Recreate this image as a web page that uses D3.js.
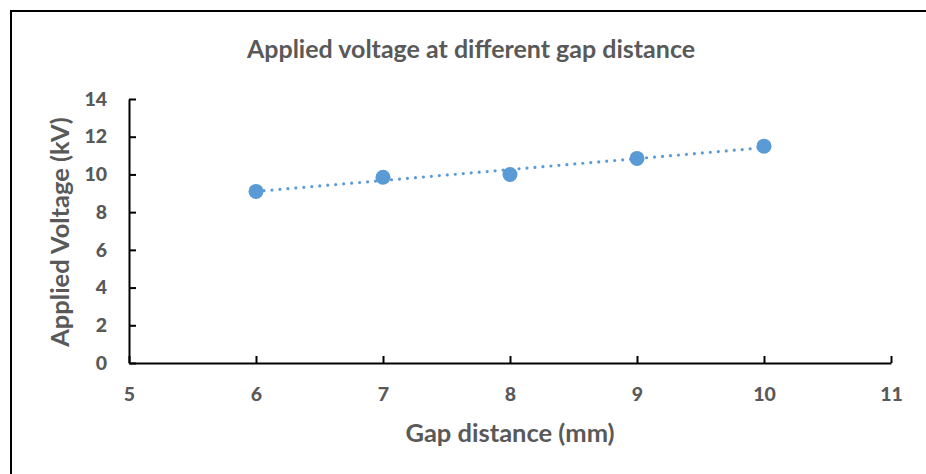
<!DOCTYPE html>
<html>
<head>
<meta charset="utf-8">
<script src="https://cdn.jsdelivr.net/npm/d3@7"></script>
<style>
  body { margin: 0; background: #fff; }
  text { font-family: Lato, "Open Sans", sans-serif; font-weight: bold; fill: #595959; }
</style>
</head>
<body>
<script>
// data
var gapDistance = [6, 7, 8, 9, 10];
var appliedVoltage = [9.1, 9.85, 10.0, 10.85, 11.5];
var xTicks = [5, 6, 7, 8, 9, 10, 11];
var yTicks = [0, 2, 4, 6, 8, 10, 12, 14];

var width = 926, height = 474;
var margin = {top: 99, right: 35, bottom: 111, left: 129};

var svg = d3.select("body").append("svg")
    .attr("width", width)
    .attr("height", height);

// outer chart frame (runs off the right and bottom edges)
svg.append("rect")
    .attr("x", 11).attr("y", 11)
    .attr("width", 940).attr("height", 480)
    .attr("fill", "none")
    .attr("stroke", "#000")
    .attr("stroke-width", 2);

var x = d3.scaleLinear().domain([5, 11]).range([margin.left, width - margin.right]);
var y = d3.scaleLinear().domain([0, 14]).range([height - margin.bottom, margin.top]);

// title
svg.append("text")
    .attr("x", 471).attr("y", 58)
    .attr("text-anchor", "middle")
    .style("font-size", "25px")
    .text("Applied voltage at different gap distance");

// axes, ticks pointing inwards
var xAxis = svg.append("g")
    .attr("transform", "translate(0," + y(0) + ")")
    .call(d3.axisBottom(x).tickValues(xTicks).tickFormat(d3.format("d"))
      .tickSize(-7).tickPadding(24).tickSizeOuter(0));
var yAxis = svg.append("g")
    .attr("transform", "translate(" + x(5) + ",0)")
    .call(d3.axisLeft(y).tickValues(yTicks).tickFormat(d3.format("d"))
      .tickSize(-7).tickPadding(22).tickSizeOuter(0));

[xAxis, yAxis].forEach(function(g) {
  g.select(".domain").attr("stroke", "#000").attr("stroke-width", 2);
  g.selectAll(".tick line").attr("stroke", "#000").attr("stroke-width", 2);
  g.selectAll(".tick text").style("font-size", "19.5px").attr("fill", "#595959")
   .style("font-family", "Lato, 'Open Sans', sans-serif").style("font-weight", "900");
});

// axis titles
svg.append("text")
    .attr("x", 510).attr("y", 442)
    .attr("text-anchor", "middle")
    .style("font-size", "25.5px")
    .text("Gap distance (mm)");
svg.append("text")
    .attr("transform", "translate(69,232) rotate(-90)")
    .attr("text-anchor", "middle")
    .style("font-size", "25.5px")
    .text("Applied Voltage (kV)");

// linear trendline (least squares of the points)
var mx = d3.mean(gapDistance), my = d3.mean(appliedVoltage);
var slope = d3.sum(gapDistance, function(g, i) { return (g - mx) * (appliedVoltage[i] - my); }) /
            d3.sum(gapDistance, function(g) { return (g - mx) * (g - mx); });
var icpt = my - slope * mx;
var x0 = d3.min(gapDistance), x1 = d3.max(gapDistance);
svg.append("line")
    .attr("x1", x(x0)).attr("y1", y(icpt + slope * x0))
    .attr("x2", x(x1)).attr("y2", y(icpt + slope * x1))
    .attr("stroke", "#5B9BD5")
    .attr("stroke-width", 3.2)
    .attr("stroke-linecap", "round")
    .attr("stroke-dasharray", "0 8");

// points
svg.selectAll("circle.pt")
    .data(gapDistance)
    .enter().append("circle")
    .attr("class", "pt")
    .attr("cx", function(d) { return x(d); })
    .attr("cy", function(d, i) { return y(appliedVoltage[i]); })
    .attr("r", 7.5)
    .attr("fill", "#5B9BD5");
</script>
</body>
</html>
